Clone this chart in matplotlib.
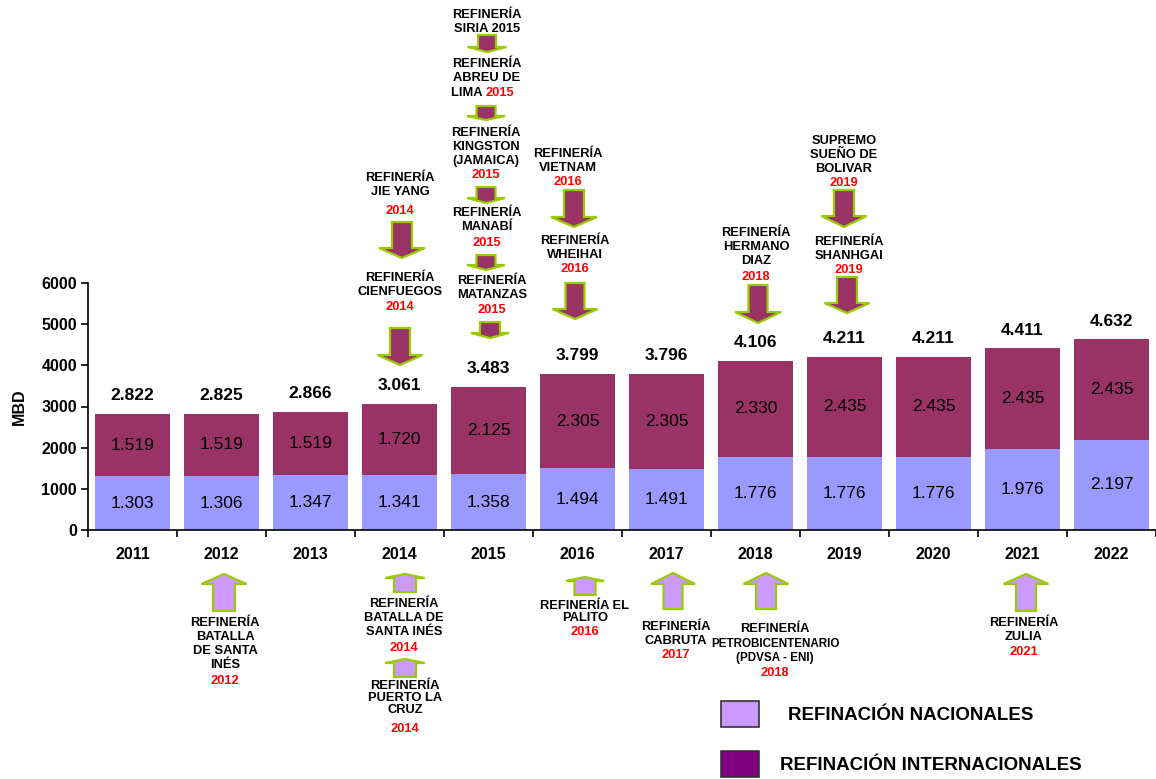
import numpy as np
import matplotlib
matplotlib.use('Agg')
import matplotlib.pyplot as plt
from matplotlib.patches import Polygon, Rectangle

plt.rcParams['font.family'] = ['Liberation Sans', 'DejaVu Sans']

# ── data ──────────────────────────────────────────────────────────────
years = ['2011', '2012', '2013', '2014', '2015', '2016',
         '2017', '2018', '2019', '2020', '2021', '2022']
nacionales = [1303, 1306, 1347, 1341, 1358, 1494, 1491, 1776, 1776, 1776, 1976, 2197]
internacionales = [1519, 1519, 1519, 1720, 2125, 2305, 2305, 2330, 2435, 2435, 2435, 2435]
yticks = [0, 1000, 2000, 3000, 4000, 5000, 6000]

c_nac = '#9999FF'
c_int = '#993366'
c_green = '#99CC00'
c_lav = '#CC99FF'

W, H = 1156, 779
fig = plt.figure(figsize=(W / 100, H / 100), dpi=100)
ax = fig.add_axes([88 / W, 1 - 530 / H, 1068 / W, 247 / H])

x = np.arange(len(years))
nac = np.array(nacionales)
inter = np.array(internacionales)
total = nac + inter


def fmt(v):
    return f'{v:,}'.replace(',', '.')


ax.bar(x, nac, width=0.84, color=c_nac)
ax.bar(x, inter, bottom=nac, width=0.84, color=c_int)

for i in range(len(x)):
    ax.text(x[i], nac[i] / 2, fmt(nac[i]), ha='center', va='center', fontsize=12.5)
    ax.text(x[i], nac[i] + inter[i] / 2, fmt(inter[i]), ha='center', va='center', fontsize=12.5)
    ax.annotate(fmt(total[i]), (x[i], total[i]), xytext=(0, 13), textcoords='offset points',
                ha='center', va='center', fontsize=12.5, fontweight='bold')

ax.set_xlim(-0.5, len(years) - 0.5)
ax.set_ylim(0, 6000)
ax.set_yticks(yticks)
ax.set_yticklabels([str(t) for t in yticks], fontweight='bold', fontsize=11.5)
ax.set_xticks(x)
ax.set_xticklabels(years, fontweight='bold', fontsize=11.5)
ax.set_xticks(np.arange(-0.5, len(years)), minor=True)
ax.tick_params(axis='x', which='major', length=0, pad=12)
ax.tick_params(axis='x', which='minor', length=5, width=1.2)
ax.tick_params(axis='y', length=5, width=1.2, pad=3)
ax.spines['top'].set_visible(False)
ax.spines['right'].set_visible(False)
ax.spines['left'].set_linewidth(1.2)
ax.spines['bottom'].set_linewidth(1.2)
ax.set_ylabel('MBD', fontweight='bold', fontsize=11.5, labelpad=10)


# ── annotations (pixel coords, y from top) ───────────────────────────
def px(xp, yp):
    return xp / W, 1 - yp / H


def arrow(cx, y0, y1, sw, hw, hh, fc):
    d = 1 if y1 > y0 else -1
    yb = y1 - d * hh
    pts = [(cx - sw / 2, y0), (cx + sw / 2, y0), (cx + sw / 2, yb), (cx + hw / 2, yb),
           (cx, y1), (cx - hw / 2, yb), (cx - sw / 2, yb)]
    fig.patches.append(Polygon([px(a, b) for a, b in pts], closed=True, transform=fig.transFigure,
                               facecolor=fc, edgecolor=c_green, lw=1.6, joinstyle='miter'))


FS = 9.3


def note(cx, y0, text, step=14, year=None, year_y=None, fs=FS):
    for k, line in enumerate(text.split('\n')):
        fig.text(*px(cx, y0 + k * step), line, ha='center', va='center',
                 fontsize=fs, fontweight='bold')
    if year:
        fig.text(*px(cx, year_y), year, ha='center', va='center',
                 fontsize=FS, fontweight='bold', color='red')


# international refineries (down arrows)
note(487, 15, 'REFINERÍA\nSIRIA 2015')
arrow(487, 35, 52, 18, 39, 5, c_int)
note(487, 64, 'REFINERÍA\nABREU DE')
fig.text(*px(486, 93), 'LIMA ', ha='right', va='center', fontsize=FS, fontweight='bold')
fig.text(*px(486, 93), '2015', ha='left', va='center', fontsize=FS, fontweight='bold', color='red')
arrow(486, 106, 120, 19, 38, 4, c_int)
note(486, 133, 'REFINERÍA\nKINGSTON\n(JAMAICA)', year='2015', year_y=175)
arrow(486, 187, 203, 19, 38, 5, c_int)
note(487, 213, 'REFINERÍA\nMANABÍ', year='2015', year_y=243)
arrow(486, 255, 270, 19, 38, 5, c_int)
note(492, 281, 'REFINERÍA\nMATANZAS', year='2015', year_y=310)
arrow(490, 322, 338, 20, 38, 5, c_int)

note(400, 178, 'REFINERÍA\nJIE YANG', year='2014', year_y=211)
arrow(402, 222, 258, 20, 46, 10, c_int)
note(400, 278, 'REFINERÍA\nCIENFUEGOS', year='2014', year_y=307)
arrow(400, 328, 365, 20, 45, 10, c_int)

note(568, 154, 'REFINERÍA\nVIETNAM', year='2016', year_y=182)
arrow(574, 190, 227, 20, 46, 10, c_int)
note(575, 241, 'REFINERÍA\nWHEIHAI', year='2016', year_y=269)
arrow(575, 283, 319, 19, 45, 10, c_int)

note(756, 233, 'REFINERÍA\nHERMANO\nDIAZ', year='2018', year_y=277)
arrow(758, 285, 323, 19, 46, 11, c_int)
note(844, 141, 'SUPREMO\nSUEÑO DE\nBOLIVAR', year='2019', year_y=183)
arrow(844, 190, 227, 20, 45, 11, c_int)
note(849, 242, 'REFINERÍA\nSHANHGAI', year='2019', year_y=270)
arrow(847, 277, 313, 20, 45, 10, c_int)

# national refineries (up arrows)
arrow(224, 611, 574, 22, 45, 10, c_lav)
note(225, 623, 'REFINERÍA\nBATALLA\nDE SANTA\nINÉS', year='2012', year_y=681)
arrow(405, 592, 574, 22, 39, 4, c_lav)
note(404, 604, 'REFINERÍA\nBATALLA DE\nSANTA INÉS', year='2014', year_y=648)
arrow(405, 677, 659, 22, 39, 4, c_lav)
note(405, 686, 'REFINERÍA\nPUERTO LA\nCRUZ', step=12, year='2014', year_y=729)
arrow(585, 595, 577, 21, 38, 4, c_lav)
note(585, 606, 'REFINERÍA EL\nPALITO', step=12, year='2016', year_y=632)
arrow(673, 609, 573, 19, 44, 11, c_lav)
note(676, 627, 'REFINERÍA\nCABRUTA', year='2017', year_y=655)
arrow(766, 609, 573, 20, 45, 11, c_lav)
note(775, 629, 'REFINERÍA', fs=FS)
note(775, 644, 'PETROBICENTENARIO\n(PDVSA - ENI)', step=14, fs=8.4, year='2018', year_y=673)
arrow(1026, 611, 574, 20, 45, 10, c_lav)
note(1024, 623, 'REFINERÍA\nZULIA', year='2021', year_y=652)

# ── legend ───────────────────────────────────────────────────────────
for (x0, y0, fc, label, tx) in [(721, 701, c_lav, 'REFINACIÓN NACIONALES', 788),
                                (721, 751, '#800080', 'REFINACIÓN INTERNACIONALES', 780)]:
    fig.patches.append(Rectangle(px(x0, y0 + 26), 38 / W, 26 / H, transform=fig.transFigure,
                                 facecolor=fc, edgecolor='#333333', lw=1.2))
    fig.text(*px(tx, y0 + 14), label, ha='left', va='center', fontsize=13.5, fontweight='bold')

fig.savefig('out.png', dpi=100)
